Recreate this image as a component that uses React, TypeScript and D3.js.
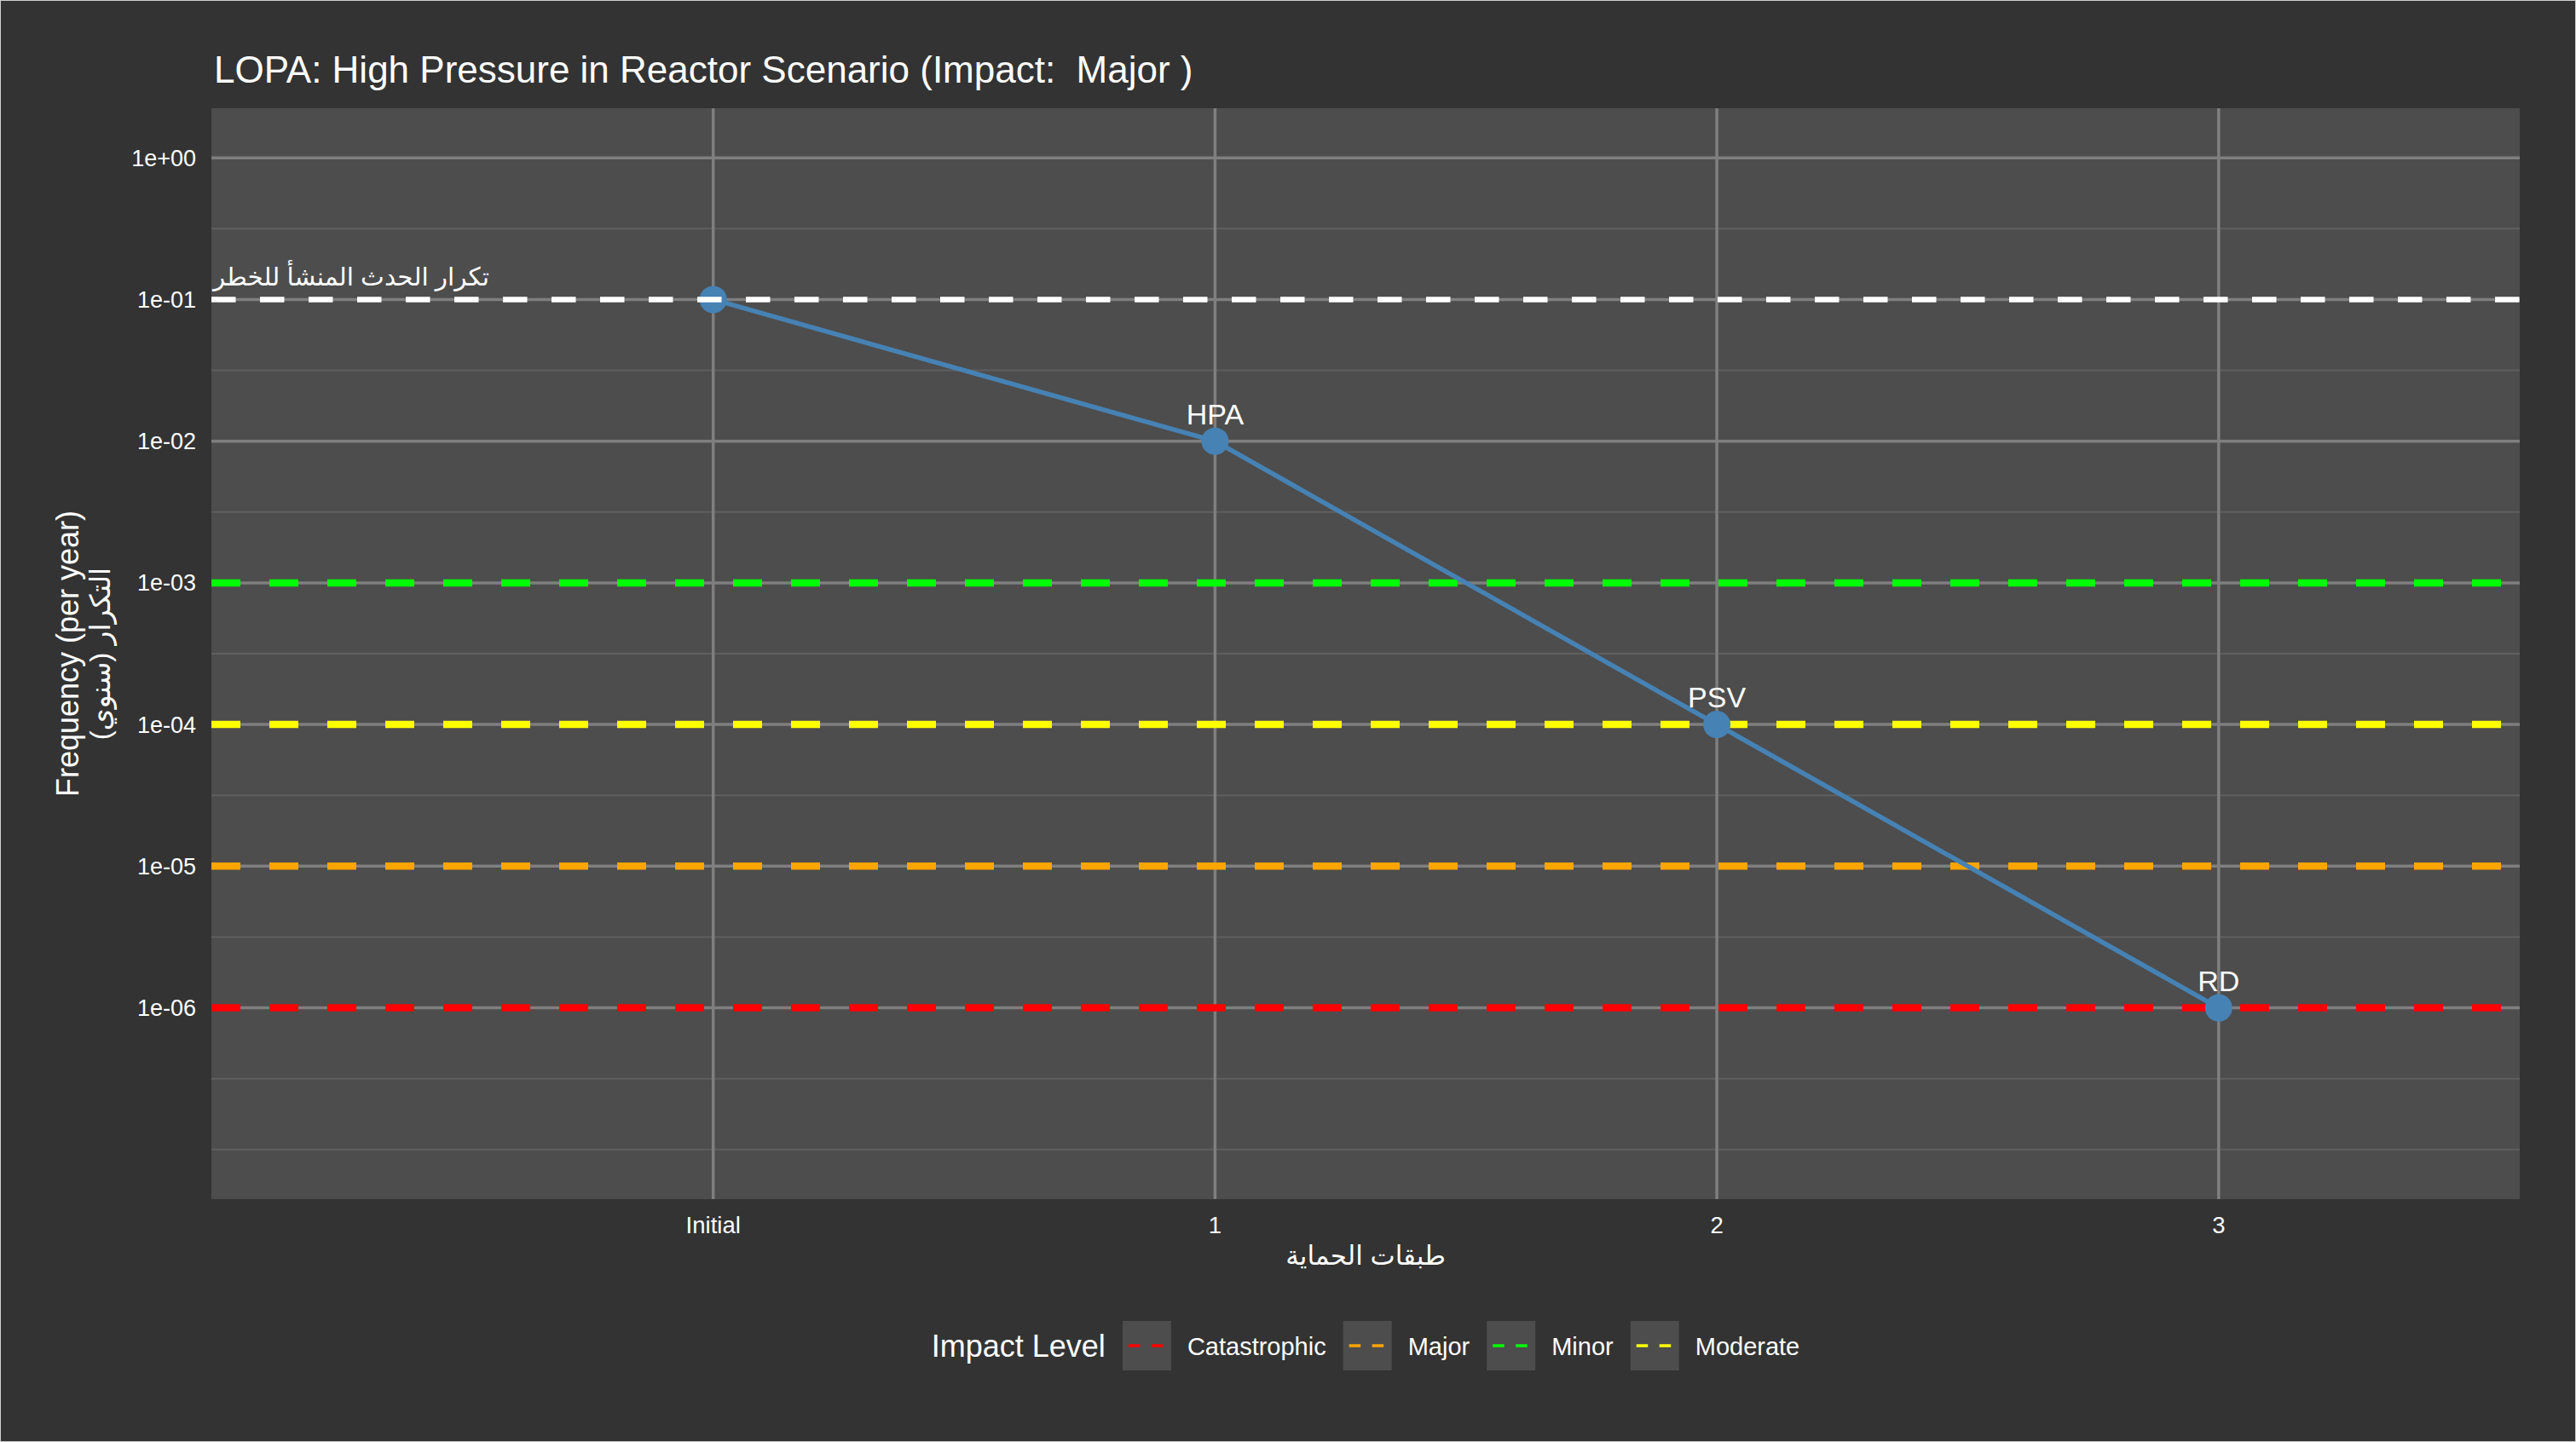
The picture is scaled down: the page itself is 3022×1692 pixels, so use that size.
import { useEffect, useRef } from 'react';
import * as d3 from 'd3';

const LAYERS = ['Initial', '1', '2', '3'];
const LAYER_POS = [0, 1, 2, 3];
const FREQ = [1e-1, 1e-2, 1e-4, 1e-6];
const IPL_LABELS = ['', 'HPA', 'PSV', 'RD'];

const IMPACT_LEVELS = ['Catastrophic', 'Major', 'Minor', 'Moderate'];
const IMPACT_FREQ = [1e-6, 1e-5, 1e-3, 1e-4];
const IMPACT_COLORS = ['#FF0000', '#FFA500', '#00FF00', '#FFFF00'];

const INITIATING_FREQ = 0.1;
const INITIATING_LABEL = 'تكرار الحدث المنشأ للخطر';

const Y_BREAKS = [1e0, 1e-1, 1e-2, 1e-3, 1e-4, 1e-5, 1e-6];
const Y_LABELS = ['1e+00', '1e-01', '1e-02', '1e-03', '1e-04', '1e-05', '1e-06'];
const Y_MINOR = [10 ** -0.5, 10 ** -1.5, 10 ** -2.5, 10 ** -3.5, 10 ** -4.5, 10 ** -5.5, 10 ** -6.5, 1e-7];

const TITLE = 'LOPA: High Pressure in Reactor Scenario (Impact:  Major )';
const X_TITLE = 'طبقات الحماية';
const Y_TITLE_1 = 'Frequency (per year)';
const Y_TITLE_2 = 'التكرار (سنوي)';

const W = 3022;
const H = 1692;
const FONT = '"Liberation Sans", Arial, "DejaVu Sans", sans-serif';

export default function App() {
  const svgRef = useRef<SVGSVGElement | null>(null);

  useEffect(() => {
    document.body.style.margin = '0';
    const svg = d3.select(svgRef.current);
    svg.selectAll('*').remove();

    const panel = { left: 248, right: 2956, top: 127, bottom: 1407 };

    const x = d3.scaleLinear().domain([-1, 3.6]).range([panel.left, panel.right]);
    const y = d3.scaleLog().domain([10 ** 0.35, 10 ** -7.35]).range([panel.top, panel.bottom]);

    svg.append('rect').attr('width', W).attr('height', H).attr('fill', '#333333')
      .attr('stroke', '#d0d0d0').attr('stroke-width', 2);

    svg.append('rect')
      .attr('x', panel.left).attr('y', panel.top)
      .attr('width', panel.right - panel.left).attr('height', panel.bottom - panel.top)
      .attr('fill', '#4D4D4D');

    // grid
    const grid = svg.append('g');
    grid.selectAll('line.minor').data(Y_MINOR).join('line')
      .attr('x1', panel.left).attr('x2', panel.right)
      .attr('y1', (d) => y(d)).attr('y2', (d) => y(d))
      .attr('stroke', '#5f5f5f').attr('stroke-width', 2);
    grid.selectAll('line.major').data(Y_BREAKS).join('line')
      .attr('x1', panel.left).attr('x2', panel.right)
      .attr('y1', (d) => y(d)).attr('y2', (d) => y(d))
      .attr('stroke', '#7f7f7f').attr('stroke-width', 3.5);
    grid.selectAll('line.vert').data(LAYER_POS).join('line')
      .attr('x1', (d) => x(d)).attr('x2', (d) => x(d))
      .attr('y1', panel.top).attr('y2', panel.bottom)
      .attr('stroke', '#7f7f7f').attr('stroke-width', 3.5);

    // impact thresholds
    svg.append('g').selectAll('line').data(IMPACT_FREQ).join('line')
      .attr('x1', panel.left).attr('x2', panel.right)
      .attr('y1', (d) => y(d)).attr('y2', (d) => y(d))
      .attr('stroke', (_, i) => IMPACT_COLORS[i])
      .attr('stroke-width', 8.5)
      .attr('stroke-dasharray', '34 34');

    // risk reduction path
    const pts = LAYER_POS.map((p, i) => [x(p), y(FREQ[i])] as [number, number]);
    svg.append('path')
      .attr('d', d3.line()(pts))
      .attr('fill', 'none').attr('stroke', '#4682B4').attr('stroke-width', 5.5);
    svg.append('g').selectAll('circle').data(pts).join('circle')
      .attr('cx', (d) => d[0]).attr('cy', (d) => d[1]).attr('r', 16)
      .attr('fill', '#4682B4');

    // initiating event frequency
    svg.append('line')
      .attr('x1', panel.left).attr('x2', panel.right)
      .attr('y1', y(INITIATING_FREQ)).attr('y2', y(INITIATING_FREQ))
      .attr('stroke', '#FFFFFF').attr('stroke-width', 6.5)
      .attr('stroke-dasharray', '28.5 28.5');

    const initText = svg.append('text')
      .attr('y', y(INITIATING_FREQ) - 16)
      .attr('fill', '#FFFFFF').attr('font-size', 29.5).attr('font-family', FONT)
      .attr('text-anchor', 'middle')
      .text(INITIATING_LABEL);
    const initW = (initText.node() as SVGTextElement).getComputedTextLength();
    initText.attr('x', x(-1) + 2 + initW / 2);

    // point labels
    svg.append('g').selectAll('text').data(IPL_LABELS).join('text')
      .attr('x', (_, i) => x(LAYER_POS[i]))
      .attr('y', (_, i) => y(FREQ[i]) - 20)
      .attr('text-anchor', 'middle').attr('fill', '#FFFFFF')
      .attr('font-size', 34).attr('font-family', FONT)
      .text((d) => d);

    // y axis labels
    svg.append('g').selectAll('text').data(Y_BREAKS).join('text')
      .attr('x', panel.left - 18).attr('y', (d) => y(d))
      .attr('dy', '0.35em').attr('text-anchor', 'end')
      .attr('fill', '#FFFFFF').attr('font-size', 27).attr('font-family', FONT)
      .text((_, i) => Y_LABELS[i]);

    // x axis labels
    svg.append('g').selectAll('text').data(LAYERS).join('text')
      .attr('x', (_, i) => x(LAYER_POS[i])).attr('y', 1447)
      .attr('text-anchor', 'middle')
      .attr('fill', '#FFFFFF').attr('font-size', 27.5).attr('font-family', FONT)
      .text((d) => d);

    const pcx = (panel.left + panel.right) / 2;
    const pcy = (panel.top + panel.bottom) / 2;

    svg.append('text')
      .attr('x', pcx).attr('y', 1484).attr('text-anchor', 'middle')
      .attr('fill', '#FFFFFF').attr('font-size', 31).attr('font-family', FONT)
      .text(X_TITLE);

    const yt = svg.append('g').attr('transform', `translate(0,${pcy}) rotate(-90)`);
    yt.append('text').attr('x', 0).attr('y', 92).attr('text-anchor', 'middle')
      .attr('fill', '#FFFFFF').attr('font-size', 36).attr('font-family', FONT)
      .text(Y_TITLE_1);
    yt.append('text').attr('x', 0).attr('y', 129).attr('text-anchor', 'middle')
      .attr('fill', '#FFFFFF').attr('font-size', 33).attr('font-family', FONT)
      .text(Y_TITLE_2);

    // title
    svg.append('text')
      .attr('x', 251).attr('y', 97)
      .attr('fill', '#FFFFFF').attr('font-size', 44).attr('font-family', FONT)
      .style('white-space', 'pre')
      .text(TITLE);

    // legend
    const leg = svg.append('g');
    const legTitle = leg.append('text')
      .attr('y', 1592).attr('fill', '#FFFFFF').attr('font-size', 36).attr('font-family', FONT)
      .text('Impact Level');
    const labels = IMPACT_LEVELS.map((l) =>
      leg.append('text').attr('y', 1590).attr('fill', '#FFFFFF')
        .attr('font-size', 29).attr('font-family', FONT).text(l));
    const keyW = 57;
    const titleW = (legTitle.node() as SVGTextElement).getComputedTextLength();
    const labelW = labels.map((t) => (t.node() as SVGTextElement).getComputedTextLength());
    const total = titleW + d3.sum(labelW) + IMPACT_LEVELS.length * (20 + keyW + 19);
    let cx = pcx - total / 2;
    legTitle.attr('x', cx);
    cx += titleW + 20;
    IMPACT_LEVELS.forEach((_, i) => {
      leg.append('rect').attr('x', cx).attr('y', 1550).attr('width', keyW).attr('height', 58)
        .attr('fill', '#4D4D4D');
      leg.append('line')
        .attr('x1', cx + 7).attr('x2', cx + keyW - 7)
        .attr('y1', 1579).attr('y2', 1579)
        .attr('stroke', IMPACT_COLORS[i]).attr('stroke-width', 3.5)
        .attr('stroke-dasharray', '13.5 13.5');
      cx += keyW + 19;
      labels[i].attr('x', cx);
      cx += labelW[i] + 20;
    });
  }, []);

  return (
    <div style={{ position: 'absolute', left: 0, top: 0 }}>
      <svg ref={svgRef} width={W} height={H} style={{ display: 'block' }} />
    </div>
  );
}
